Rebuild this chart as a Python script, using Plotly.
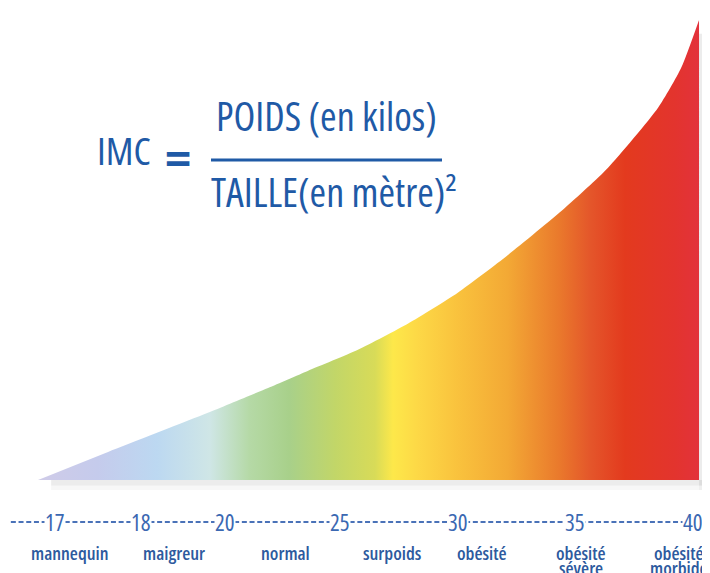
import plotly.graph_objects as go

# Curve (position along the scale 0-100, height 0-100)
curve_x = [0, 10.6, 25.7, 34.8, 40.8, 48.4, 56.0, 63.5, 71.1, 79.7, 86.2, 93.8, 97.3, 100]
curve_h = [0, 6.1, 14.6, 20.0, 23.7, 28.3, 34.0, 40.7, 48.9, 59.1, 67.8, 80.9, 89.6, 100]

# Scale tick values and their positions on the scale
tick_labels = ["17", "18", "20", "25", "30", "35", "40"]
tick_pos = [2.6, 15.6, 28.3, 45.7, 63.5, 81.2, 99.1]

# Categories (first line / second line) and their positions
cat_line1 = ["mannequin", "maigreur", "normal", "surpoids", "obésité", "obésité", "obésité"]
cat_line2 = ["", "", "", "", "", "sévère", "morbide"]
cat_pos = [4.84, 20.6, 37.5, 53.7, 67.2, 82.1, 97.0]

# Gradient stops (fraction along x, colour)
grad_stops = [0.0, 0.09, 0.18, 0.26, 0.32, 0.38, 0.45, 0.51, 0.537, 0.575, 0.635,
              0.71, 0.787, 0.837, 0.888, 0.964, 1.0]
grad_cols = ["#cfcbe8", "#c5cbec", "#bcd8f1", "#cfe6e6", "#b5d9a6", "#a8d08a", "#c2d668",
             "#d8db58", "#fde84a", "#fdd846", "#f9c23d", "#f3a935", "#ea7a2c", "#e4552a",
             "#e33a1e", "#e3342e", "#e3323b"]

FONT = "Open Sans, Roboto, sans-serif"
blue = "#1f5aa6"
tick_blue = "#3b68b2"
label_blue = "#2d5a9e"

fig = go.Figure()

# faint soft shadow under baseline and right edge
for dy, op in [(2.2, 0.10), (1.2, 0.16)]:
    fig.add_shape(type="rect", x0=2, x1=100 + dy * 0.75, y0=-dy, y1=0, line_width=0,
                  fillcolor=f"rgba(180,180,180,{op})", layer="below")
    fig.add_shape(type="rect", x0=100, x1=100 + dy * 0.75, y0=-dy, y1=97, line_width=0,
                  fillcolor=f"rgba(180,180,180,{op})", layer="below")

fig.add_trace(go.Scatter(
    x=curve_x, y=curve_h, mode="lines", line=dict(width=0, shape="spline", smoothing=0.6),
    fill="tozeroy",
    fillgradient=dict(type="horizontal",
                      colorscale=[[s, c] for s, c in zip(grad_stops, grad_cols)]),
    hoverinfo="skip", showlegend=False,
))

# dashed scale line
y_scale = 1 - 514 / 573
fig.add_shape(type="line", xref="paper", yref="paper", x0=0.004, x1=1.0,
              y0=y_scale, y1=y_scale,
              line=dict(color="#4a72b8", width=2, dash="5px,2.7px"))

for t, p in zip(tick_labels, tick_pos):
    fig.add_annotation(x=p, y=y_scale, xref="x", yref="paper", text=t,
                       showarrow=False,
                       font=dict(family=FONT, size=23, color=tick_blue, weight=500),
                       bgcolor="white", borderpad=0, xanchor="center", yanchor="middle")

for l1, l2, p in zip(cat_line1, cat_line2, cat_pos):
    fig.add_annotation(x=p, y=1 - 544 / 573, xref="x", yref="paper", text=l1,
                       showarrow=False,
                       font=dict(family=FONT, size=18.5, color=label_blue, weight=600),
                       xanchor="center", yanchor="middle")
    if l2:
        fig.add_annotation(x=p, y=1 - 559 / 573, xref="x", yref="paper", text=l2,
                           showarrow=False,
                           font=dict(family=FONT, size=18.5, color=label_blue, weight=600),
                           xanchor="center", yanchor="middle")

# Formula
ffont = dict(family=FONT, size=40, color=blue, weight=500)
fig.add_annotation(x=116 / 710, y=1 - 142 / 573, xref="paper", yref="paper", text="IMC",
                   showarrow=False, font=dict(family=FONT, size=39, color=blue, weight=500),
                   xanchor="center", yanchor="middle")
fig.add_annotation(x=170 / 710, y=1 - 150 / 573, xref="paper", yref="paper", text="=",
                   showarrow=False,
                   font=dict(family="DejaVu Sans, sans-serif", size=40, color=blue, weight="bold"),
                   xanchor="center", yanchor="middle")
fig.add_annotation(x=318 / 710, y=1 - 107 / 573, xref="paper", yref="paper",
                   text="POIDS (en kilos)", showarrow=False, font=ffont,
                   xanchor="center", yanchor="middle")
fig.add_annotation(x=326 / 710, y=1 - 183 / 573, xref="paper", yref="paper",
                   text="TAILLE(en mètre)<span style='font-size:38px'>²</span>",
                   showarrow=False, font=ffont,
                   xanchor="center", yanchor="middle")
fig.add_shape(type="line", xref="paper", yref="paper", x0=203 / 710, x1=434 / 710,
              y0=1 - 152 / 573, y1=1 - 152 / 573, line=dict(color=blue, width=3))

fig.update_layout(
    width=710, height=573, margin=dict(l=0, r=0, t=0, b=0),
    paper_bgcolor="white", plot_bgcolor="white",
    xaxis=dict(range=[-4.54, 102.87], visible=False, fixedrange=True),
    yaxis=dict(range=[-21.96, 102.6], visible=False, fixedrange=True),
)

# condensed width for all text (Open Sans variable font); then re-render with a
# slightly different font string so Plotly re-measures the condensed glyphs
post = """
var st = document.createElement('style');
st.textContent = 'svg text { font-stretch: 75% !important; }';
document.head.appendChild(st);
var gd = document.getElementById('{plot_id}');
var anns = gd.layout.annotations || [];
for (var i = 0; i < anns.length; i++) {
  if (anns[i].font && anns[i].font.family) { anns[i].font.family = anns[i].font.family + ', serif'; }
}
Plotly.newPlot(gd, gd.data, gd.layout);
"""
fig.write_html("out.html", post_script=post)
